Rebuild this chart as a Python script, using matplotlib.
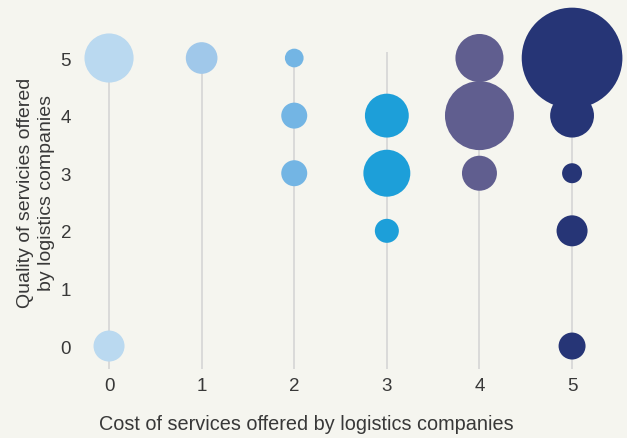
import matplotlib.pyplot as plt
import numpy as np

plt.rcParams['font.family'] = ['Liberation Sans', 'DejaVu Sans']

# cost score (x), quality score (y), relative weight of each bubble
cost = [0, 0, 1, 2, 2, 2, 3, 3, 3, 4, 4, 4, 5, 5, 5, 5, 5]
quality = [5, 0, 5, 5, 4, 3, 4, 3, 2, 5, 4, 3, 5, 4, 3, 2, 0]
weight = [6.9, 2.75, 2.87, 1.0, 1.93, 1.93, 5.5, 6.3, 1.65, 6.6, 13.6, 3.5, 29.0, 5.5, 1.14, 2.75, 2.08]

col_colors = ['#bad9f0', '#a0c8ea', '#73b5e4', '#1d9fd9', '#605e8f', '#263576']
bg = '#f5f5ef'
txt = '#383838'

fig = plt.figure(figsize=(6.27, 4.39), dpi=100, facecolor=bg)
ax = fig.add_axes([0.1222, 0.157, 0.8788, 0.7217], facecolor=bg)

ax.set_xlim(-0.35, 5.6)
ax.set_ylim(-0.4, 5.1)

for x in range(6):
    ax.axvline(x, color='#d5d5d5', lw=1.2, zorder=1)

# diameter of weight 1 is about 18.7 px
s = np.array(weight) * (18.7 * 0.72) ** 2
colors = [col_colors[c] for c in cost]
ax.scatter(cost, quality, s=s, c=colors, linewidths=0, zorder=2, clip_on=False)

ax.set_xticks(range(6))
ax.set_yticks(range(6))
ax.tick_params(length=0, labelsize=13.5, labelcolor=txt)
ax.tick_params(axis='x', pad=6)
ax.tick_params(axis='y', pad=4)
for sp in ax.spines.values():
    sp.set_visible(False)

fig.text(0.489, 0.034, 'Cost of services offered by logistics companies',
         fontsize=14.3, color=txt, ha='center', va='center')
fig.text(0.0574, 0.560, 'Quality of servicies offered\nby logistics companies',
         fontsize=14, color=txt, ha='center', va='center', rotation=90,
         multialignment='center', linespacing=1.25)

fig.savefig('out.png', dpi=100, facecolor=bg)
